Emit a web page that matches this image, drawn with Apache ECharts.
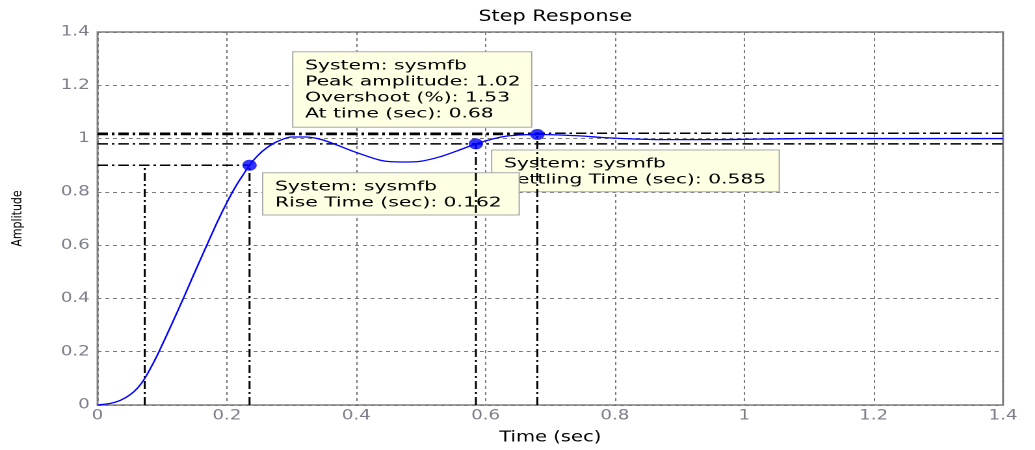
<!DOCTYPE html>
<html>
<head>
<meta charset="utf-8">
<title>Step Response</title>
<script src="https://cdn.jsdelivr.net/npm/echarts@6/dist/echarts.min.js"></script>
<style>
  html, body { margin: 0; padding: 0; background: #fff; overflow: hidden; }
  #stage { width: 1035px; height: 450px; overflow: hidden; }
  /* the figure is laid out at 796px and widened to fill the 1035px frame */
  #chart { width: 796px; height: 450px; transform: scaleX(1.3003); transform-origin: 0 0; }
</style>
</head>
<body>
<div id="stage"><div id="chart"></div></div>
<script>
// Step response of the closed loop sysmfb
const timeSec = [0, 0.02, 0.035, 0.05, 0.062, 0.073, 0.085, 0.095, 0.115, 0.133,
  0.151, 0.169, 0.185, 0.2, 0.213, 0.224, 0.235, 0.248, 0.262, 0.278,
  0.3, 0.32, 0.348, 0.4, 0.44, 0.47, 0.5, 0.53, 0.555, 0.585,
  0.61, 0.632, 0.655, 0.68, 0.71, 0.746, 0.78, 0.824, 0.88, 0.95,
  1.02, 1.1, 1.2, 1.3, 1.4];
const amplitude = [0, 0.006, 0.017, 0.038, 0.064, 0.1, 0.152, 0.2, 0.305, 0.402,
  0.502, 0.6, 0.686, 0.76, 0.818, 0.86, 0.9, 0.937, 0.966, 0.989,
  1.006, 1.006, 0.995, 0.948, 0.917, 0.912, 0.915, 0.932, 0.953, 0.98,
  0.998, 1.009, 1.014, 1.0153, 1.014, 1.01, 1.004, 0.999, 0.996, 0.996,
  0.998, 1.0, 1.0, 1.0, 1.0];

// Step characteristics
const riseTimes = [0.073, 0.235];      // 10 % and 90 % crossings
const riseLevels = [0.1, 0.9];
const settlingTime = 0.585;
const settlingBand = [0.98, 1.02];    // +/- 2 % of the final value
const finalValue = 1;
const peakTime = 0.68;
const peakAmplitude = 1.0153;

// Axes
const axisRange = [0, 1.4];
const tickStep = 0.2;
const xTickLabels = ['0', '0.2', '0.4', '0.6', '0.8', '1', '1.2', '1.4'];
const yTickLabels = ['0', '0.2', '0.4', '0.6', '0.8', '1', '1.2', '1.4'];

// Data tip texts
const systemName = 'System: sysmfb';
const peakTip = [systemName,
  'Peak amplitude: ' + peakAmplitude.toFixed(2),
  'Overshoot (%): ' + ((peakAmplitude - finalValue) * 100).toFixed(2),
  'At time (sec): ' + peakTime.toFixed(2)];
const riseTip = [systemName,
  'Rise Time (sec): ' + (riseTimes[1] - riseTimes[0]).toFixed(3)];
const settleTip = [systemName,
  'Settling Time (sec): ' + settlingTime.toFixed(3)];

const FONT = '"DejaVu Sans", Verdana, sans-serif';
const tickColor = '#7d7d8c';
const gridColor = '#7a7a7a';
const guideDash = [8, 3, 2, 3];

// black dash-dot guide segments
const guides = [
  [[axisRange[0], riseLevels[1]], [riseTimes[1], riseLevels[1]]],
  [[riseTimes[0], 0], [riseTimes[0], riseLevels[1]]],
  [[riseTimes[1], 0], [riseTimes[1], riseLevels[1]]],
  [[axisRange[0], settlingBand[0]], [axisRange[1], settlingBand[0]]],
  [[axisRange[0], settlingBand[1]], [axisRange[1], settlingBand[1]]],
  [[settlingTime, 0], [settlingTime, settlingBand[0]]],
  [[axisRange[0], peakAmplitude], [peakTime, peakAmplitude]],
  [[peakTime, 0], [peakTime, peakAmplitude]]
];

const guideSeries = guides.map(seg => ({
  type: 'line',
  data: seg,
  symbol: 'none',
  silent: true,
  z: 3,
  lineStyle: { color: '#000', width: 1.5, type: guideDash }
}));

function tipBox(x, y, w, h, lines, z2) {
  return [
    {
      type: 'rect', silent: true, z: 1, z2: z2,
      shape: { x: x, y: y, width: w, height: h },
      style: { fill: '#ffffe4', stroke: '#a9a9a9', lineWidth: 1 }
    },
    {
      type: 'text', silent: true, z: 1, z2: z2 + 1,
      x: x + 9.5, y: y + 6.3, scaleX: 1.2,
      style: {
        text: lines.join('\n'), font: '13px ' + FONT, fill: '#000',
        lineHeight: 16, verticalAlign: 'top', align: 'left'
      }
    }
  ];
}

const chart = echarts.init(document.getElementById('chart'), null, { renderer: 'canvas', devicePixelRatio: 2 });

chart.setOption({
  animation: false,
  backgroundColor: '#fff',
  title: {
    text: 'Step Response',
    left: 422, top: 4, textAlign: 'center',
    textStyle: { fontFamily: FONT, fontSize: 16, fontWeight: 'normal', color: '#000' }
  },
  grid: {
    left: 74.6, right: 24.6, top: 32, bottom: 43,
    show: true, borderColor: '#808080', borderWidth: 1.5, backgroundColor: 'transparent'
  },
  xAxis: {
    type: 'value', min: axisRange[0], max: axisRange[1], interval: tickStep,
    name: 'Time (sec)', nameLocation: 'middle', nameGap: 25,
    nameTextStyle: { fontFamily: FONT, fontSize: 15, color: '#000' },
    axisLine: { show: false }, axisTick: { show: false },
    axisLabel: {
      margin: 4, fontFamily: FONT, fontSize: 14, color: tickColor,
      formatter: v => xTickLabels[Math.round(v / tickStep)]
    },
    splitLine: { show: true, lineStyle: { color: gridColor, width: 1, type: [3, 3] } }
  },
  yAxis: {
    type: 'value', min: axisRange[0], max: axisRange[1], interval: tickStep,
    name: 'Amplitude', nameLocation: 'middle', nameGap: 56,
    nameTextStyle: { fontFamily: FONT, fontSize: 11, color: '#000' },
    axisLine: { show: false }, axisTick: { show: false },
    axisLabel: {
      margin: 6, fontFamily: FONT, fontSize: 14, color: tickColor,
      formatter: v => yTickLabels[Math.round(v / tickStep)]
    },
    splitLine: { show: true, lineStyle: { color: gridColor, width: 1, type: [3, 3] } }
  },
  graphic: {
    elements: [].concat(
      tipBox(378.1, 150, 221.2, 41.7, settleTip, 10),
      tipBox(202, 172.7, 197.3, 42.3, riseTip, 20),
      tipBox(225.1, 51.7, 183.8, 75.6, peakTip, 30)
    )
  },
  series: guideSeries.concat([
    {
      name: 'sysmfb',
      type: 'line',
      data: timeSec.map((t, i) => [t, amplitude[i]]),
      symbol: 'none',
      smooth: 0.3,
      z: 4,
      lineStyle: { color: '#0000ff', width: 1.3 }
    },
    {
      type: 'scatter',
      data: [
        [riseTimes[1], riseLevels[1]],
        [settlingTime, settlingBand[0]],
        [peakTime, peakAmplitude]
      ],
      symbol: 'circle',
      symbolSize: 11,
      z: 5,
      itemStyle: { color: '#0000ff' }
    }
  ])
});
</script>
</body>
</html>
